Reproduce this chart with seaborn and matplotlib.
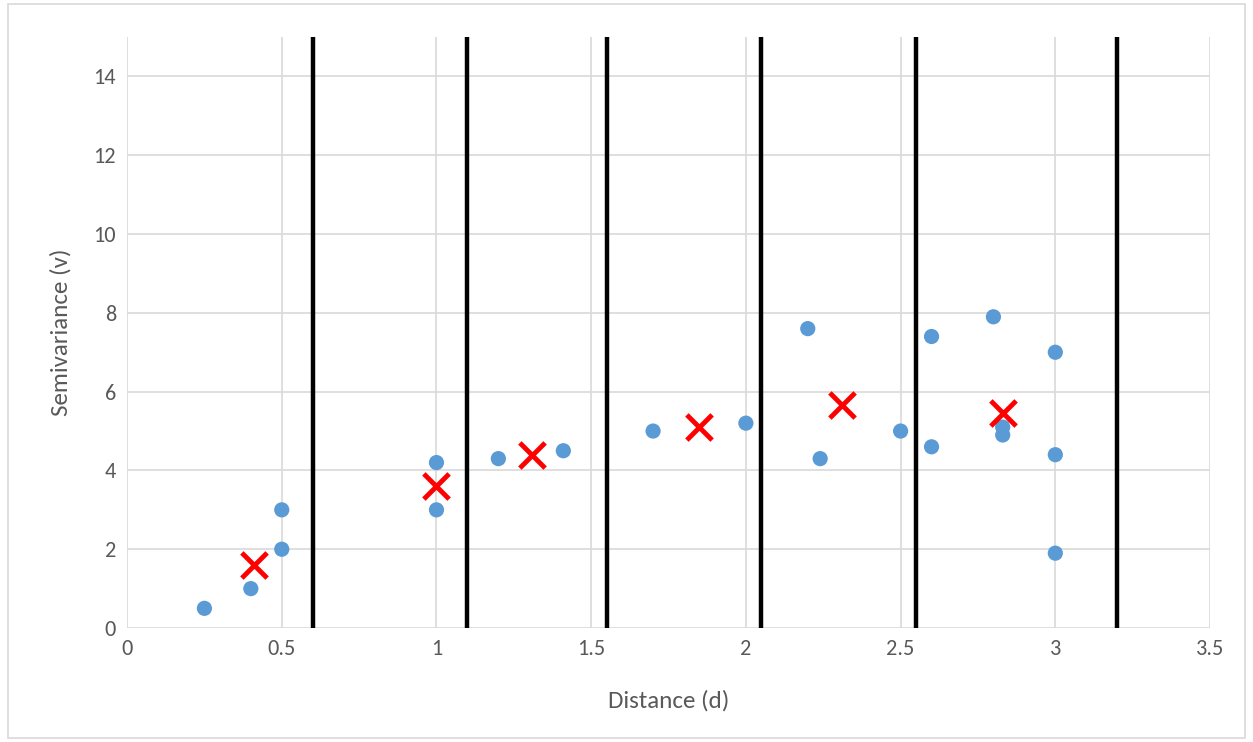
import numpy as np
import pandas as pd
import matplotlib
matplotlib.use("Agg")
import matplotlib.pyplot as plt
import seaborn as sns
from matplotlib.patches import Rectangle

# observed pairs
dist = [0.25, 0.40, 0.50, 0.50, 1.00, 1.00, 1.20, 1.41, 1.70, 2.00,
        2.20, 2.24, 2.50, 2.60, 2.60, 2.80, 2.83, 2.83, 3.00, 3.00, 3.00]
semi = [0.5, 1.0, 2.0, 3.0, 4.2, 3.0, 4.3, 4.5, 5.0, 5.2,
        7.6, 4.3, 5.0, 7.4, 4.6, 7.9, 4.9, 5.1, 7.0, 4.4, 1.9]

# bin averages
bin_dist = [0.41, 1.00, 1.31, 1.85, 2.31, 2.83]
bin_semi = [1.6, 3.6, 4.4, 5.1, 5.65, 5.45]

# bin boundaries
breaks = [0.60, 1.10, 1.55, 2.05, 2.55, 3.20]

pts = pd.DataFrame({"d": dist, "v": semi})
avg = pd.DataFrame({"d": bin_dist, "v": bin_semi})

sns.set_style("white")
plt.rcParams['font.family'] = ['Calibri', 'Carlito', 'Liberation Sans', 'DejaVu Sans']

fig = plt.figure(figsize=(12.53, 7.42), dpi=100)
ax = fig.add_axes([0.1014, 0.1536, 0.8643, 0.7964])

ax.set_xlim(0, 3.5)
ax.set_ylim(0, 15)
ax.set_xticks(np.arange(0, 3.51, 0.5))
ax.set_yticks(np.arange(0, 14.1, 2))
ax.set_xticklabels(["0", "0.5", "1", "1.5", "2", "2.5", "3", "3.5"])
ax.grid(True, color="#d9d9d9", linewidth=1.2)
ax.set_axisbelow(True)
for s in ax.spines.values():
    s.set_visible(False)
ax.tick_params(length=0, labelsize=16, labelcolor="#595959", pad=8)

for b in breaks:
    ax.axvline(b, color="black", linewidth=3.2, zorder=2)

sns.scatterplot(data=pts, x="d", y="v", ax=ax, color="#5b9bd5", s=120,
                edgecolor="none", zorder=3)
sns.scatterplot(data=avg, x="d", y="v", ax=ax, color="#ff0000", marker="x",
                s=330, linewidth=3.5, zorder=4)

ax.set_xlabel("Distance (d)", fontsize=18, color="#595959", labelpad=22)
ax.set_ylabel("Semivariance (v)", fontsize=18, color="#595959", labelpad=16)

fig.patches.append(Rectangle((0.006, 0.006), 0.988, 0.988, transform=fig.transFigure,
                             fill=False, edgecolor="#d9d9d9", linewidth=1.2))

fig.savefig("out.png", dpi=100)
